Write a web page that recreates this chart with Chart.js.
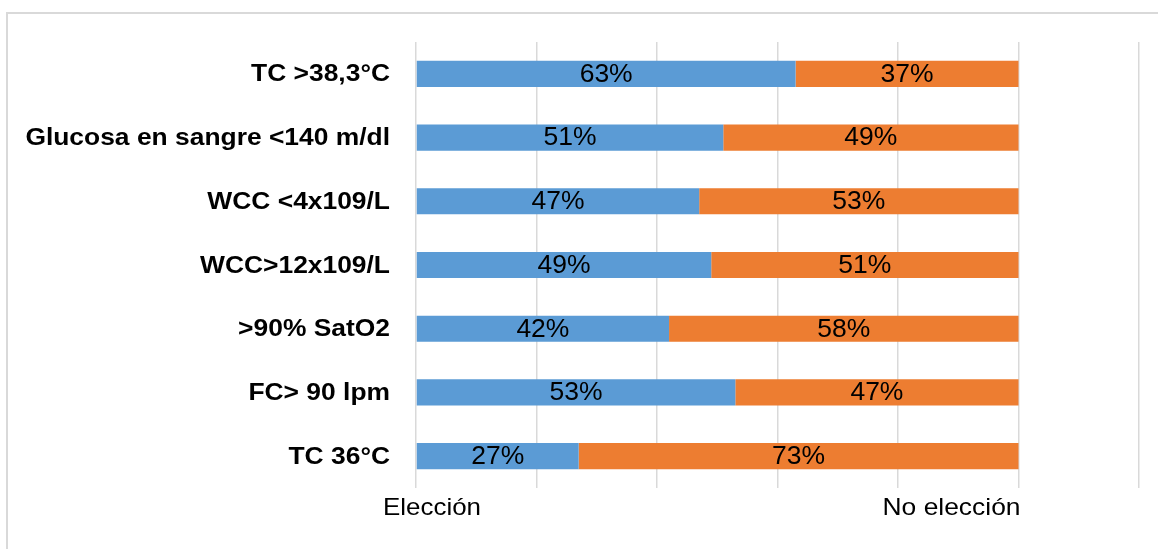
<!DOCTYPE html>
<html>
<head>
<meta charset="utf-8">
<script src="https://cdn.jsdelivr.net/npm/chart.js@4/dist/chart.umd.min.js"></script>
<style>
  html, body { margin: 0; padding: 0; background: #fff; overflow: hidden; }
  #frame {
    position: absolute; left: 6px; top: 12px;
    width: 1300px; height: 700px;
    border: 2px solid #d9d9d9; box-sizing: border-box;
  }
  #wrap { position: absolute; left: 0; top: 0; width: 1158px; height: 549px; }
</style>
</head>
<body>
<div id="frame"></div>
<div id="wrap"><canvas id="chart" width="1158" height="549"></canvas></div>
<script>
const categories = [
  "TC >38,3°C",
  "Glucosa en sangre <140 m/dl",
  "WCC <4x109/L",
  "WCC>12x109/L",
  ">90% SatO2",
  "FC> 90 lpm",
  "TC 36°C"
];
const seriesNames = ["Elección", "No elección"];
const eleccion = [63, 51, 47, 49, 42, 53, 27];
const noEleccion = [37, 49, 53, 51, 58, 47, 73];
const seriesColors = ["#5b9bd5", "#ed7d31"];

const FONT = "'Liberation Sans', Arial, sans-serif";

// text is a bit wider than the plain font, so squeeze/stretch it horizontally
function wideText(ctx, text, x, y, align, sx) {
  ctx.save();
  ctx.translate(x, y);
  ctx.scale(sx, 1);
  ctx.textAlign = align;
  ctx.fillText(text, 0, 0);
  ctx.restore();
}

// category names to the left of the bars
const categoryLabels = {
  id: "categoryLabels",
  afterDraw(chart) {
    const ctx = chart.ctx;
    const ys = chart.scales.y;
    ctx.save();
    ctx.font = "bold 24px " + FONT;
    ctx.fillStyle = "#000";
    ctx.textBaseline = "middle";
    chart.data.labels.forEach((lab, i) => {
      wideText(ctx, lab, chart.chartArea.left - 26, ys.getPixelForValue(i) + 1, "right", 1.1);
    });
    ctx.restore();
  }
};

// value text centred inside each bar segment
const segmentLabels = {
  id: "segmentLabels",
  afterDatasetsDraw(chart) {
    const ctx = chart.ctx;
    ctx.save();
    ctx.font = "25px " + FONT;
    ctx.fillStyle = "#000";
    ctx.textBaseline = "middle";
    chart.data.datasets.forEach((ds, i) => {
      chart.getDatasetMeta(i).data.forEach((bar, j) => {
        const cx = (bar.x + bar.base) / 2;
        wideText(ctx, ds.data[j] + "%", cx, bar.y + 1, "center", 1.06);
      });
    });
    ctx.restore();
  }
};

// series names written under the axis, one at each end of the bars
const seriesCaptions = {
  id: "seriesCaptions",
  afterDraw(chart) {
    const ctx = chart.ctx;
    const xs = chart.scales.x;
    const y = chart.chartArea.bottom + 20;
    ctx.save();
    ctx.font = "24px " + FONT;
    ctx.fillStyle = "#000";
    ctx.textBaseline = "middle";
    wideText(ctx, seriesNames[0], xs.getPixelForValue(0) - 33, y, "left", 1.08);
    wideText(ctx, seriesNames[1], xs.getPixelForValue(100) + 2, y, "right", 1.1);
    ctx.restore();
  }
};

new Chart(document.getElementById("chart"), {
  type: "bar",
  data: {
    labels: categories,
    datasets: [
      { label: seriesNames[0], data: eleccion, backgroundColor: seriesColors[0] },
      { label: seriesNames[1], data: noEleccion, backgroundColor: seriesColors[1] }
    ]
  },
  options: {
    indexAxis: "y",
    responsive: false,
    animation: false,
    devicePixelRatio: 1,
    layout: { padding: { left: 0, right: 19, top: 42, bottom: 0 } },
    datasets: { bar: { barPercentage: 0.41, categoryPercentage: 1 } },
    plugins: {
      legend: { display: false },
      tooltip: { enabled: false }
    },
    scales: {
      x: {
        stacked: true,
        min: 0,
        max: 120,
        ticks: { stepSize: 20, display: false },
        grid: { color: "#d9d9d9", lineWidth: 1.5, drawTicks: false },
        border: { display: false },
        afterFit: s => { s.height = 61; }
      },
      y: {
        stacked: true,
        grid: { display: false, drawTicks: false },
        border: { display: false },
        ticks: { display: false },
        afterFit: s => { s.width = 416; }
      }
    }
  },
  plugins: [segmentLabels, categoryLabels, seriesCaptions]
});
</script>
</body>
</html>
